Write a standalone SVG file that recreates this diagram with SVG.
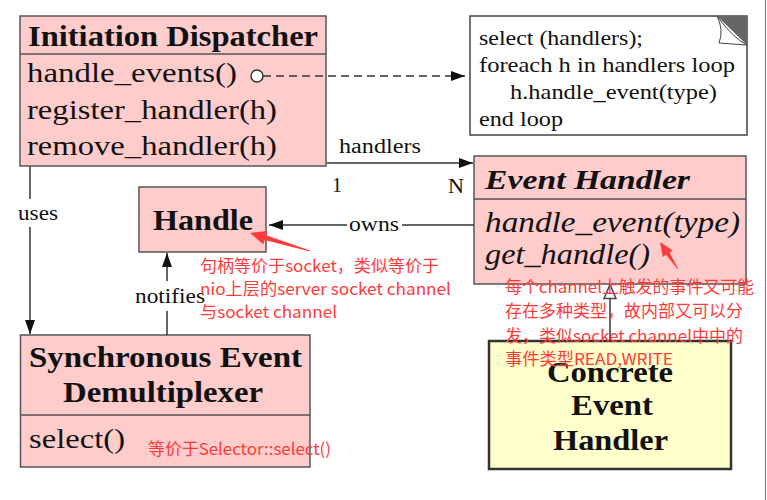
<svg xmlns="http://www.w3.org/2000/svg" width="767" height="500" viewBox="0 0 767 500">
<style>
.box{fill:#FFCCCC;stroke:#555;stroke-width:1.5}
.div{stroke:#555;stroke-width:1.5}
.t{font-family:'Liberation Serif','Times New Roman',Tinos,'Nimbus Roman',Times,serif;fill:#111}
.b{font-weight:bold}
.i{font-style:italic}
.ln{stroke:#333;stroke-width:1.5;fill:none}
.red{font-family:'Noto Sans CJK SC','Microsoft YaHei',sans-serif;font-size:16.5px;fill:#FF3A3A}
</style>
<defs>
<marker id="arr" markerUnits="userSpaceOnUse" markerWidth="14" markerHeight="10" refX="14" refY="5" orient="auto">
<path d="M0,0 L14,5 L0,10 z" fill="#111"/>
</marker>
<marker id="tri" markerUnits="userSpaceOnUse" markerWidth="16" markerHeight="14" refX="15" refY="7" orient="auto">
<path d="M1,1 L15,7 L1,13 z" fill="#fff" stroke="#444" stroke-width="1.5"/>
</marker>
</defs>
<rect width="767" height="500" fill="#fff"/>
<line x1="765.5" y1="0" x2="765.5" y2="500" stroke="#777" stroke-width="1"/>

<g id="initiation-dispatcher">
<rect class="box" x="20" y="16" width="306" height="150"/>
<line class="div" x1="20" y1="54" x2="326" y2="54"/>
<text class="t b" x="28" y="46" font-size="29" textLength="290" lengthAdjust="spacingAndGlyphs">Initiation Dispatcher</text>
<text class="t" x="27" y="82" font-size="28" textLength="210" lengthAdjust="spacingAndGlyphs">handle_events()</text>
<text class="t" x="27" y="118.5" font-size="28" textLength="250" lengthAdjust="spacingAndGlyphs">register_handler(h)</text>
<text class="t" x="27" y="155" font-size="28" textLength="250" lengthAdjust="spacingAndGlyphs">remove_handler(h)</text>
</g>

<g id="note">
<rect x="470" y="16" width="277" height="119" fill="#fff" stroke="#444" stroke-width="1.5"/>
<path d="M717,16 L747,16 L747,45 Z" fill="#666"/>
<path d="M717,16 Q724,30 719,43 L747,45 Q733,38 717,16 Z" fill="#fff" stroke="#444" stroke-width="1"/>
<text class="t" x="479" y="45" font-size="21" textLength="164" lengthAdjust="spacingAndGlyphs">select (handlers);</text>
<text class="t" x="479" y="72" font-size="21" textLength="256" lengthAdjust="spacingAndGlyphs">foreach h in handlers loop</text>
<text class="t" x="510" y="99" font-size="21" textLength="207" lengthAdjust="spacingAndGlyphs">h.handle_event(type)</text>
<text class="t" x="479" y="126" font-size="21" textLength="84" lengthAdjust="spacingAndGlyphs">end loop</text>
</g>

<g id="event-handler">
<rect class="box" x="474" y="156" width="272" height="128"/>
<line class="div" x1="474" y1="199" x2="746" y2="199"/>
<text class="t b i" x="485" y="189" font-size="27" textLength="205" lengthAdjust="spacingAndGlyphs">Event Handler</text>
<text class="t i" x="485" y="232" font-size="29" textLength="255" lengthAdjust="spacingAndGlyphs">handle_event(type)</text>
<text class="t i" x="485" y="264" font-size="29" textLength="165" lengthAdjust="spacingAndGlyphs">get_handle()</text>
</g>

<g id="handle">
<rect class="box" x="139" y="187" width="127" height="65"/>
<text class="t b" x="153" y="230" font-size="30" textLength="100" lengthAdjust="spacingAndGlyphs">Handle</text>
</g>

<g id="demultiplexer">
<rect class="box" x="20.5" y="335" width="289.5" height="132"/>
<line class="div" x1="20.5" y1="415" x2="310" y2="415"/>
<text class="t b" x="29" y="367" font-size="29" textLength="273" lengthAdjust="spacingAndGlyphs">Synchronous Event</text>
<text class="t b" x="63" y="402" font-size="29" textLength="200" lengthAdjust="spacingAndGlyphs">Demultiplexer</text>
<text class="t" x="29" y="448" font-size="28" textLength="96" lengthAdjust="spacingAndGlyphs">select()</text>
</g>

<g id="concrete-event-handler">
<rect x="489" y="341" width="242" height="128" fill="#FFFFCC" stroke="#333" stroke-width="2.5"/>
<text class="t b" x="547" y="382" font-size="30" textLength="126" lengthAdjust="spacingAndGlyphs">Concrete</text>
<text class="t b" x="571" y="415" font-size="30" textLength="82" lengthAdjust="spacingAndGlyphs">Event</text>
<text class="t b" x="553" y="450" font-size="30" textLength="115" lengthAdjust="spacingAndGlyphs">Handler</text>
</g>

<g id="connectors">
<line class="ln" x1="263" y1="76" x2="465" y2="76" stroke-dasharray="8 5" marker-end="url(#arr)"/>
<circle cx="257" cy="76" r="6" fill="#fff" stroke="#333" stroke-width="1.5"/>
<line class="ln" x1="327" y1="163" x2="473" y2="163" marker-end="url(#arr)"/>
<line class="ln" x1="474" y1="225" x2="402" y2="225"/>
<line class="ln" x1="347" y1="225" x2="269" y2="225" marker-end="url(#arr)"/>
<line class="ln" x1="30" y1="166.5" x2="30" y2="199"/>
<line class="ln" x1="30" y1="227" x2="30" y2="334" marker-end="url(#arr)"/>
<line class="ln" x1="167" y1="335" x2="167" y2="311"/>
<line class="ln" x1="167" y1="281" x2="167" y2="253" marker-end="url(#arr)"/>
<line class="ln" x1="610" y1="340" x2="610" y2="284.5" marker-end="url(#tri)"/>
<text class="t" x="339" y="153" font-size="20" textLength="82" lengthAdjust="spacingAndGlyphs">handlers</text>
<text class="t" x="332" y="192" font-size="20">1</text>
<text class="t" x="448" y="193" font-size="20" textLength="16" lengthAdjust="spacingAndGlyphs">N</text>
<text class="t" x="349" y="231" font-size="21" textLength="50" lengthAdjust="spacingAndGlyphs">owns</text>
<text class="t" x="18" y="220" font-size="20" textLength="40" lengthAdjust="spacingAndGlyphs">uses</text>
<text class="t" x="135" y="303" font-size="21" textLength="70" lengthAdjust="spacingAndGlyphs">notifies</text>
</g>

<g id="annotations">
<polygon fill="#FF3A3A" points="250,233 267.3,230.9 266,235.2 310.1,250.5 309.9,251.5 264.6,240 263.3,244.3"/>
<polygon fill="#FF3A3A" points="660,242 672.8,250.4 669.5,252.6 678.3,268.8 677.7,269.2 666.1,254.8 662.8,257"/>
<text class="red" x="200" y="272" textLength="239" lengthAdjust="spacingAndGlyphs">句柄等价于socket，类似等价于</text>
<text class="red" x="200" y="295" textLength="251" lengthAdjust="spacingAndGlyphs">nio上层的server socket channel</text>
<text class="red" x="200" y="318" textLength="137" lengthAdjust="spacingAndGlyphs">与socket channel</text>
<text class="red" x="505" y="293" textLength="249" lengthAdjust="spacingAndGlyphs">每个channel上触发的事件又可能</text>
<text class="red" x="505" y="317" textLength="238" lengthAdjust="spacingAndGlyphs">存在多种类型，故内部又可以分</text>
<text class="red" x="505" y="342" textLength="238" lengthAdjust="spacingAndGlyphs">发，类似socket channel中中的</text>
<text class="red" x="505" y="365" textLength="168" lengthAdjust="spacingAndGlyphs">事件类型READ,WRITE</text>
<text class="red" x="148" y="455" textLength="183" lengthAdjust="spacingAndGlyphs">等价于Selector::select()</text>
</g>
</svg>
